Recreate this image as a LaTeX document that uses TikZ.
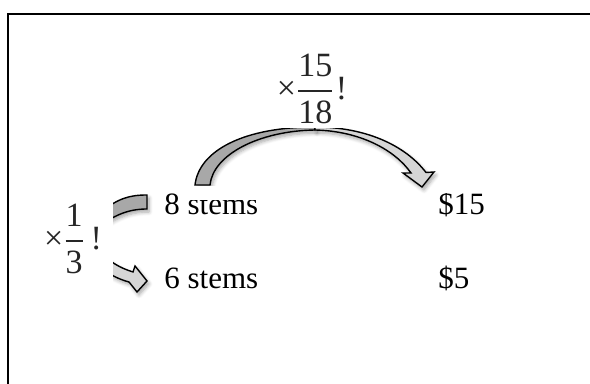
\documentclass[tikz,border=0pt]{standalone}
\usepackage{amsmath}
\usepackage{fontspec}
\setmainfont{Liberation Serif}
\usetikzlibrary{shadows.blur}
\definecolor{banddark}{HTML}{A8A8A8}
\definecolor{bandlight}{HTML}{D6D6D6}
\definecolor{inkgray}{HTML}{262626}
\begin{document}
\begin{tikzpicture}[x=0.5pt,y=-0.5pt,
  qty/.style={inner sep=0pt, anchor=base west, font=\fontsize{15.5}{18}\selectfont},
  factor/.style={fill=white, text=inkgray, anchor=base, font=\fontsize{17}{20}\selectfont},
  band/.style={draw=black, line width=0.7pt, line join=miter,
    blur shadow={shadow xshift=1pt, shadow yshift=-1.5pt, shadow opacity=35, shadow blur steps=6}},
]
\useasboundingbox (0,0) rectangle (590,384);
\clip (0,0) rectangle (590,384);
% outer frame (only its top and left sides fall inside the page)
\draw[line width=1pt] (8,420) -- (8,14) -- (620,14);

% large curved arrow: dark back half, light front half with head
\path[band, fill=banddark]
  (195,185) .. controls (199,150) and (245,127) .. (315,127)
  -- (315,130) .. controls (258,131) and (213,155) .. (210,185) -- cycle;
\path[band, fill=bandlight]
  (315,127) .. controls (365,127) and (405,145) .. (426,172.5)
  -- (434,172) -- (422,187) -- (403,173) -- (411,173)
  .. controls (395,150) and (360,131) .. (315,130) -- cycle;

% small curved arrow on the left
\path[band, fill=banddark]
  (147,195) .. controls (130,195) and (118,198) .. (100,213)
  -- (100,226) .. controls (116,214) and (130,209) .. (147,209) -- cycle;
\path[band, fill=bandlight]
  (100,252) .. controls (110,262) and (120,268) .. (133,272)
  -- (135,266) -- (147,281) -- (137,292) -- (129,282)
  .. controls (118,279) and (108,274) .. (100,266) -- cycle;

% factors
\node[factor, inner xsep=3pt, inner ysep=2.2pt] (top) at (312,99.5)
  {×$\dfrac{\text{15}}{\text{18}}$\kern0.5pt!};
\node[factor, inner xsep=5.5pt, inner ysep=8.5pt] (left) at (73,249.5)
  {×$\dfrac{\text{1}}{\text{3}}$\,!};

% quantities
\node[qty] (s8) at (164,215) {8 stems};
\node[qty] (s6) at (164,289) {6 stems};
\node[qty] (p15) at (438,215) {\$15};
\node[qty] (p5) at (438,289) {\$5};

% the arrow's white box trims the tops of the upper row
\fill[white] (182,186) rectangle (262,200.5);
\fill[white] (436,186) rectangle (447,193.5);
\end{tikzpicture}
\end{document}
